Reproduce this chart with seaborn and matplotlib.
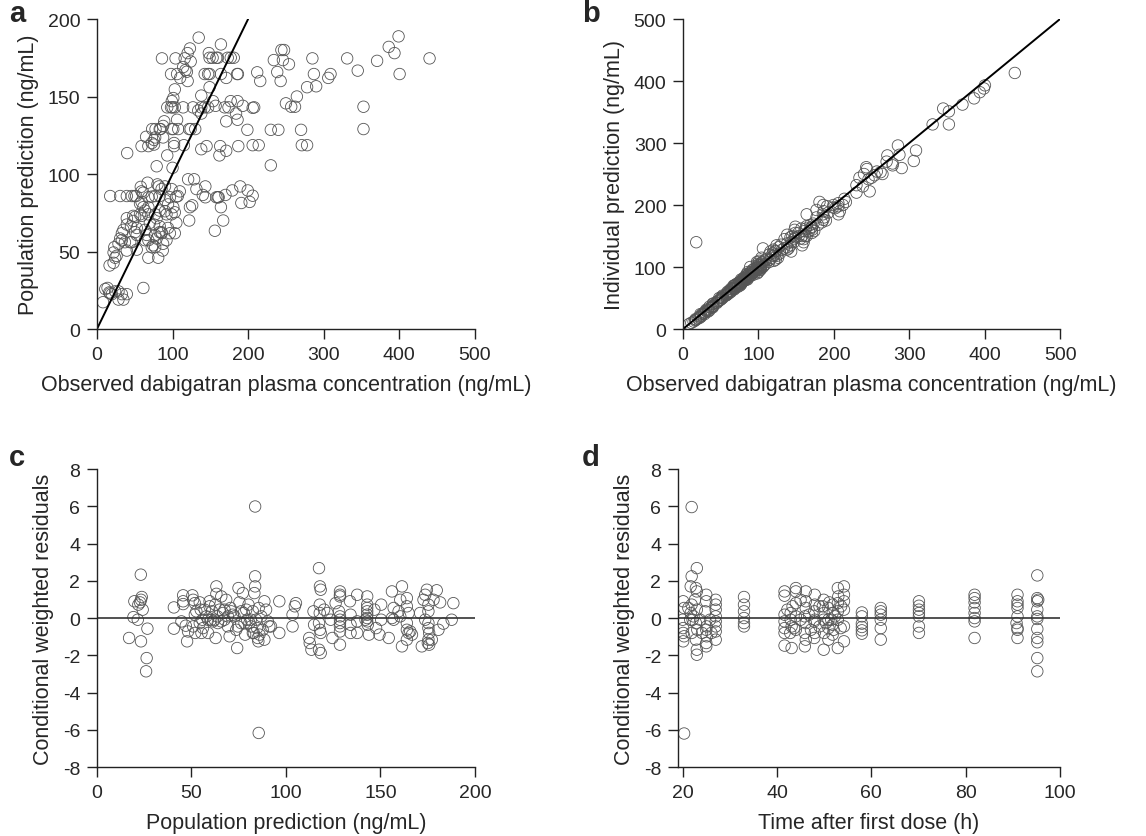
import pandas as pd
import matplotlib
matplotlib.use("Agg")
import matplotlib.pyplot as plt
import seaborn as sns

# ---------------------------
# Data
# ---------------------------
# observed concentration / population prediction / individual prediction (ng/mL)
obs = [440, 400.4, 399, 393.6, 386, 370.6, 352.6, 352.6, 345, 331,
       309, 306, 290, 287, 285, 278, 278, 271, 270, 264.5,
       262, 257, 254, 250, 247.5, 246, 244, 243, 240, 238.5,
       234, 230, 230, 216, 214, 212, 208, 206, 206, 206,
       202, 199.5, 199, 193, 191, 189.5, 187, 186.5, 186, 186,
       185.5, 184, 181, 179, 177, 177, 174, 173, 171, 171,
       171, 170, 169, 167, 164, 164, 164, 163, 162, 161,
       160, 160, 158, 158, 157, 156, 153.5, 153, 149, 149,
       149, 148, 147, 147, 145, 143.4, 143.4, 142.5, 142.5, 140,
       138, 138, 138, 138, 134.6, 134, 131.6, 130, 128.5, 127,
       126, 124, 124, 123, 123, 122, 122, 120.6, 120, 120,
       119, 117, 116, 115, 114, 114, 110, 109.6, 107.5, 107,
       106, 106, 105, 105, 104, 103, 103, 103, 103, 102,
       102, 101, 101, 101, 100, 100, 99, 99, 98.7, 98.7,
       98, 98, 96.5, 96.5, 94, 94, 93, 93, 92, 92,
       90, 90, 90, 89, 87.5, 87.5, 87.5, 87, 86, 85.5,
       85.5, 85.5, 84, 83, 83, 83, 83, 83, 82, 81,
       80, 79, 79, 79, 77.5, 77, 77, 77, 77, 77,
       75.5, 75.5, 75.5, 74.5, 73, 72.5, 72.5, 72.5, 70, 68,
       68, 68, 68, 68, 68, 67, 65.8, 65, 63.6, 63.6,
       63.6, 61.4, 61.4, 61.4, 59, 59, 59, 59, 58, 57,
       57, 52.6, 52.6, 52.6, 51.8, 50.5, 50.5, 49.6, 48, 48,
       46, 46, 45, 44, 40, 39.5, 39.5, 39.5, 39.5, 39.5,
       37, 35, 35, 33, 33, 33, 30.7, 30.7, 28.5, 28.5,
       28.5, 26, 24, 24, 23, 22, 22, 19.7, 17.5, 17.5,
       16.7, 16.2, 14, 11, 8]

pred = [174.6, 164.5, 188.8, 178, 182, 173, 143.4, 129, 166.7, 174.6,
        164.5, 162, 156.6, 164.5, 174.6, 156, 118.6, 118.6, 128.5, 150,
        143.4, 143.4, 170.8, 145.6, 180, 173.5, 180, 160, 128.5, 165.8,
        173.5, 128.5, 105.6, 160, 118.6, 165.6, 143, 142.7, 118.6, 86,
        82, 89.4, 128.5, 144, 81.3, 92, 118, 164.5, 135, 147,
        164.5, 139, 175, 89.4, 147, 175, 143, 175, 162, 134,
        115, 86.5, 143, 70, 183.6, 164.5, 78.6, 118, 112, 85,
        175, 85, 175, 85, 144, 63.4, 147, 175, 175, 164.5,
        156, 178, 164.5, 143, 118, 92, 85, 164.5, 143, 86.5,
        150.6, 143, 139, 116, 188, 141, 90.3, 129, 96.6, 143,
        79.8, 172.6, 129, 181, 78.6, 129, 70, 96.6, 178, 160,
        166, 167, 174.6, 118.6, 169, 143, 162, 88.8, 129, 85.8,
        164.5, 135, 85.4, 68.5, 174.6, 154.6, 143, 75.3, 61.8, 120,
        118, 149, 129, 78.6, 143, 104, 147, 129, 90.3, 74,
        164.5, 143, 85, 61.8, 80.4, 65.2, 143, 112, 74, 57.3,
        92, 76, 83.2, 134, 131, 123.6, 55, 50.6, 174.6, 90.3,
        61.8, 62.5, 129, 129, 85.8, 76.4, 66.3, 62.5, 92, 46,
        93.3, 105, 71.5, 58.4, 129, 123.6, 85.8, 74, 60.7, 52.8,
        122, 119, 67.4, 54, 129, 120, 85.4, 52.8, 68.5, 118,
        85, 78.6, 74, 57.3, 46, 94.4, 60.7, 124, 76.4, 64,
        57.3, 88, 78.6, 26.5, 118, 88.8, 82, 73, 91.7, 80.9,
        74, 65.2, 60.7, 51.2, 85.8, 72.4, 62.5, 85.8, 73, 69.7,
        85.8, 56, 66.3, 56, 113.5, 85.8, 71.5, 67.4, 50.6, 22.5,
        56, 64, 19, 61.8, 57.3, 22.5, 85.8, 58.4, 55, 24.3,
        19, 47.2, 46, 24.3, 52.8, 49.4, 42.7, 22.5, 85.8, 23,
        41, 23.6, 26.5, 25.8, 17.3]

ipred = [413, 393, 388, 382, 372, 362, 351, 330, 355.6, 330,
         288, 271, 259.6, 281, 296, 264, 267, 280, 270, 250,
         253, 254, 248, 244, 222, 241.6, 258, 261, 250, 230,
         244, 220, 232, 205, 210, 200, 190, 198, 185, 203,
         195, 200, 196, 188, 198, 175, 180, 190, 176, 200,
         185, 172, 205, 168, 192, 180, 158, 170, 165, 160,
         155, 163, 168, 158, 185, 166, 150, 162, 150, 158,
         145, 140, 150, 135, 162, 146, 150, 155, 165, 148,
         155, 160, 140, 145, 150, 125, 140, 148, 135, 130,
         138, 152, 132, 128, 145, 130, 128, 136, 122, 132,
         115, 135, 118, 125, 112, 126, 120, 110, 128, 118,
         122, 115, 125, 112, 120, 108, 112, 105, 110, 102,
         130, 100, 108, 104, 115, 98, 106, 96, 100, 102,
         95, 110, 104, 98, 92, 97, 100, 103, 95, 90,
         105, 108, 98, 94, 92, 88, 96, 91, 95, 90,
         86, 92, 88, 100, 85, 90, 84, 88, 92, 82,
         86, 80, 88, 84, 80, 82, 79, 85, 80, 78,
         82, 78, 76, 80, 74, 78, 75, 80, 74, 72,
         76, 72, 70, 75, 72, 70, 74, 68, 72, 70,
         66, 67, 65, 69, 64, 70, 66, 64, 62, 65,
         60, 62, 60, 58, 60, 57, 56, 58, 55, 56,
         54, 52, 50, 54, 50, 48, 51, 47, 46, 50,
         44, 45, 42, 43, 38, 40, 37, 41, 36, 35,
         34, 36, 30, 30, 32, 28, 29, 31, 26, 27,
         24, 25, 22, 20, 24, 20, 18, 17, 140, 15,
         16, 14, 12, 10, 8]

# panel c: conditional weighted residuals vs population prediction
c_pred = [17, 19.8, 19.3, 21.6, 22.8, 21.9, 23.2, 23.7, 23.3, 24.2, 23.3, 26.3, 26.7, 26,
          40.7, 40.7, 45.6, 45.6, 44.7, 47.7, 47, 45.6,
          50.5, 50.9, 50.9, 52, 52.6, 51.8,
          54.4, 54.9, 55.8, 56.1, 55.3,
          58.8, 59.6, 60.9, 58.8, 61.4, 62.6, 63.2, 63.2, 62.8, 63.7,
          64.9, 66.7, 65.8, 68.4, 69.3, 70.7, 70.2, 71, 71.9,
          73.7, 74.2, 74.9, 75.4, 76.3, 77.2, 77.7, 78.4, 79.5,
          80.2, 80.7, 81.6, 82.5, 83, 83.3, 83.7, 83.7, 84.2, 84.7, 85.1, 85.4, 85.6, 86, 85.6, 83.7,
          88.6, 89.5, 90.4, 91.2, 92.1, 88.6,
          96.5, 96.5, 103.5, 103.5, 104.7, 105.3,
          112.3, 112.6, 113.5, 114.9, 114.6,
          117.5, 118, 118.4, 117.9, 117.9, 117.5, 118, 118.4, 117.5, 118.4,
          120.2, 122, 124.6, 123.7, 126.3,
          128.6, 128.6, 128.6, 128.1, 128.6, 128.6, 128.6, 128.6, 128.6, 128.6,
          133.9, 134.2, 134.2, 137.7, 137.7, 137.7, 134.2,
          143, 143, 143, 143, 143, 143, 143, 143.3, 143.9, 142.1,
          146.8, 147.7, 149.5, 150.4, 150.4,
          154.4, 156.1, 156.1, 157, 157,
          160.5, 161.4, 161.4, 160.5, 159.6,
          164, 164, 164.9, 164, 164, 164.9, 165.8, 166.7, 164,
          171, 171.9, 172.8, 173.7, 174.6, 175.4, 175.4, 175.4, 175.4, 175.8, 175.4, 175.1, 175.8, 173.7,
          177.2, 178.1, 179.8, 180.7, 181.6, 183.3, 187.7, 188.6,
          51.8, 57, 57.9, 60.5, 64, 67.5, 69.3, 72.8, 74.6, 78.1, 79,
          81.4, 82.5, 87, 87.7, 62.3, 67.5, 76.3, 54.4, 48.2, 59.6, 65.8]

c_cwres = [-1.07, 0.9, 0.05, -0.09, 0.84, 0.72, 2.33, 1.13, 0.98, 0.45, -1.25, -2.15, -0.57, -2.86,
           0.57, -0.57, 1.22, 0.75, -0.18, -1.25, -0.41, 0.9,
           1.22, 0.98, -0.45, -0.8, 0.36, 0.18,
           0.84, 0.45, -0.09, -0.54, -0.8,
           -0.09, 0.63, 0.36, -0.8, -0.18, 0.72, 1.7, 1.3, -1.07, 0.09,
           0.45, 0.27, -0.18, 0.98, 0.09, 0.54, -0.98, 0.36, 0.18,
           -0.63, -1.61, 1.61, 0.84, -0.27, 1.34, 0.27, -0.89, -0.09,
           0.72, -0.27, -0.45, 0.36, -0.8, 1.34, 2.24, 1.7, -0.09, -0.54, -1.07, -1.25, 0.54, -0.89, -6.17, 5.99,
           0.9, 0.45, -0.18, -0.45, -0.45, -1.16,
           0.9, -0.8, 0.18, -0.45, 0.63, 0.8,
           -1.07, -1.34, -1.7, -0.36, 0.36,
           2.68, 1.7, 1.52, 0.72, 0.27, -0.27, -0.63, -0.8, -1.7, -1.88,
           0.45, 0.27, -1.07, -0.09, 0.8,
           1.43, 1.25, 1.16, 0.36, 0.09, -0.09, -0.27, -0.45, -0.72, -1.43,
           0.9, 0.18, -0.36, 1.25, -0.18, -0.8, -0.8,
           1.16, 0.72, 0.54, 0.36, 0.18, 0, -0.18, -0.36, -0.89, -0.09,
           0.45, -0.54, -0.89, 0.72, -0.09,
           -1.07, 1.43, 0, 0.54, -0.09,
           0.98, -1.52, 1.7, 0.09, 0.36,
           1.07, 0.63, 0.27, -0.27, -0.63, -0.8, -0.72, -0.89, -1.16,
           0.27, -1.52, 0.98, 1.25, 1.52, 0.72, 0.36, -0.27, -0.54, -0.8, -1.16, -1.34, -1.43, -0.09,
           -1.16, 0.98, 1.49, -0.63, 0.84, -0.3, -0.09, 0.8,
           0.8, 0.45, 0.09, -0.09, -0.27, -0.09, -0.45, 0.09, -0.45, -0.27, 0.45,
           -0.09, -0.8, 0.09, -0.63, -0.09, 0.45, 0.36, -0.27, -0.72, 0.9, 1.16]

# panel d: conditional weighted residuals vs time after first dose (h)
d_time = [20.1, 20.3, 20, 20.1, 20.1, 20.3, 20.1, 20.3,
          21.9, 21.9, 21.7, 21.9, 21.7, 22.1, 21.9,
          23, 22.8, 23, 22.6, 23, 22.8, 23.1, 22.8, 23, 23,
          25, 25, 24.8, 25.1, 25, 25.1, 25, 25,
          27, 27, 27, 27, 27, 27, 27, 27,
          33, 33, 33, 33, 33, 33,
          41.6, 41.6, 41.6, 41.6, 41.6, 41.6, 41.6,
          42.9, 42.9, 43.1, 43.1, 42.8, 43.3,
          44, 44, 44, 44, 44,
          46.1, 46.1, 46.1, 45.9, 46.1, 45.9, 45.9, 46.1,
          48, 48, 47.9, 48, 47.9, 48, 47.9,
          49.9, 49.9, 49.9, 50, 49.9, 49.7,
          50.9, 50.9, 50.9, 50.9, 51.1,
          51.8, 51.8, 51.8, 52, 51.8,
          52.9, 52.9, 52.9, 52.9, 52.9, 53,
          54.2, 54.2, 54.2, 54.2, 54.2, 54.2,
          58, 58, 58, 58, 58, 58,
          62, 62, 62, 62, 62, 62,
          70.1, 70.1, 70.1, 70.1, 70.1, 70.1, 70.1,
          81.9, 81.9, 81.9, 81.9, 81.9, 81.9, 81.9, 81.9,
          91, 91, 91, 91, 91, 90.8, 91, 91, 91,
          95.2, 95.2, 95.2, 95.4, 95.2, 95.2, 95.2, 95.2, 95.2, 95.2, 95.2, 95.2,
          21.2, 21.6, 22.3, 23.7, 24.1, 25.8, 26.1,
          42.2, 43.6, 45, 45, 46.8, 47.2, 49, 49, 50.4, 51.5, 52.3, 53.5, 53.6]

d_cwres = [0.9, 0.54, -0.09, -0.54, -0.8, -0.98, -1.25, -6.2,
           5.96, 2.24, 1.7, 0.72, 0.27, -0.09, -0.8,
           2.68, 1.61, 1.43, 0.98, 0.45, -0.27, -0.63, -1.16, -1.7, -1.97,
           1.25, 0.9, 0.36, -0.45, -0.63, -0.98, -1.34, -1.52,
           0.98, 0.72, 0.45, 0.09, -0.18, -0.45, -0.72, -1.16,
           1.13, 0.72, 0.36, 0, -0.27, -0.45,
           1.43, 1.2, 0.18, -0.18, -0.54, -0.8, -1.48,
           0.27, -0.09, -0.45, -1.61, -0.8, 0.63,
           1.61, 1.43, 0.8, 0.09, -0.63,
           1.43, 0.9, 0.54, 0.09, -0.27, -0.8, -1.52, -1.16,
           1.25, 0.72, 0.36, -0.09, -0.18, -0.8, -1.07,
           0.98, 0.27, -0.09, -0.8, -1.7, 0.63,
           0.54, -0.09, -0.54, -1.16, 0.84,
           0.72, 0.27, -0.36, -0.63, -0.89,
           1.61, 0.8, 0.36, -0.09, -1.61, 1.16,
           1.7, 1.25, 0.9, 0.45, -0.45, -1.25,
           0.3, 0.09, -0.3, -0.48, -0.66, -0.84,
           0.54, 0.36, 0.18, -0.09, -0.54, -1.16,
           0.9, 0.66, 0.45, 0.27, 0.09, -0.45, -0.8,
           1.25, 1.07, 0.84, 0.54, 0.27, 0, -0.18, -1.07,
           1.25, 0.9, 0.72, 0.54, 0.09, -0.27, -0.54, -0.63, -1.07,
           2.29, 1.07, 0.9, 0.98, 0.45, 0.09, -0.05, -0.59, -1.07, -1.3, -2.15, -2.86,
           0.54, -0.09, 0.09, -0.09, -0.8, -0.09, -0.8,
           0.45, -0.54, -0.09, 0.98, 0.18, -0.63, 0.63, -0.45, -0.27, -0.09, 0.09, -0.54, 0.63]

df_ab = pd.DataFrame({"obs": obs, "pred": pred, "ipred": ipred})
df_c = pd.DataFrame({"pred": c_pred, "cwres": c_cwres})
df_d = pd.DataFrame({"time": d_time, "cwres": d_cwres})

# ---------------------------
# Plot
# ---------------------------
sns.set_theme(style="ticks")
plt.rcParams["font.family"] = ["Liberation Sans", "DejaVu Sans"]
plt.rcParams["axes.unicode_minus"] = False

fig = plt.figure(figsize=(11.46, 8.37), dpi=100)
ax_a = fig.add_axes([0.0846, 0.6057, 0.3298, 0.3704])
ax_b = fig.add_axes([0.5960, 0.6057, 0.3290, 0.3704])
ax_c = fig.add_axes([0.0846, 0.0824, 0.3298, 0.3560])
ax_d = fig.add_axes([0.5916, 0.0824, 0.3333, 0.3560])

pt = dict(s=68, facecolor="none", edgecolor="#555555", linewidth=0.6, legend=False)

sns.scatterplot(data=df_ab, x="obs", y="pred", ax=ax_a, **pt)
ax_a.axline((0, 0), slope=1, color="black", lw=1.4)
ax_a.set_xlim(0, 500)
ax_a.set_ylim(0, 200)
ax_a.set_xticks([0, 100, 200, 300, 400, 500])
ax_a.set_yticks([0, 50, 100, 150, 200])
ax_a.set_xlabel("Observed dabigatran plasma concentration (ng/mL)")
ax_a.set_ylabel("Population prediction (ng/mL)")

sns.scatterplot(data=df_ab, x="obs", y="ipred", ax=ax_b, **pt)
ax_b.axline((0, 0), slope=1, color="black", lw=1.4)
ax_b.set_xlim(0, 500)
ax_b.set_ylim(0, 500)
ax_b.set_xticks([0, 100, 200, 300, 400, 500])
ax_b.set_yticks([0, 100, 200, 300, 400, 500])
ax_b.set_xlabel("Observed dabigatran plasma concentration (ng/mL)")
ax_b.set_ylabel("Individual prediction (ng/mL)")

sns.scatterplot(data=df_c, x="pred", y="cwres", ax=ax_c, **pt)
ax_c.axhline(0, color="#333333", lw=1.2)
ax_c.set_xlim(0, 200)
ax_c.set_ylim(-8, 8)
ax_c.set_xticks([0, 50, 100, 150, 200])
ax_c.set_yticks([-8, -6, -4, -2, 0, 2, 4, 6, 8])
ax_c.set_xlabel("Population prediction (ng/mL)")
ax_c.set_ylabel("Conditional weighted residuals")

sns.scatterplot(data=df_d, x="time", y="cwres", ax=ax_d, **pt)
ax_d.axhline(0, color="#333333", lw=1.2)
ax_d.set_xlim(19, 100)
ax_d.set_ylim(-8, 8)
ax_d.set_xticks([20, 40, 60, 80, 100])
ax_d.set_yticks([-8, -6, -4, -2, 0, 2, 4, 6, 8])
ax_d.set_xlabel("Time after first dose (h)")
ax_d.set_ylabel("Conditional weighted residuals")

for ax in [ax_a, ax_b, ax_c, ax_d]:
    sns.despine(ax=ax)
    for sp in ["left", "bottom"]:
        ax.spines[sp].set_linewidth(1.0)
        ax.spines[sp].set_color("#222222")
    ax.tick_params(direction="out", length=7, width=1.0, labelsize=14, color="#222222", pad=5)
    ax.xaxis.label.set_size(15.5)
    ax.yaxis.label.set_size(15.5)
    ax.xaxis.labelpad = 8
    ax.yaxis.labelpad = 6

# panel letters
for x, y, letter in [(0.008, 1.0, "a"), (0.508, 1.0, "b"), (0.008, 0.47, "c"), (0.508, 0.47, "d")]:
    fig.text(x, y, letter, fontsize=21, fontweight="bold", va="top", ha="left")

fig.savefig("out.png", dpi=100)
